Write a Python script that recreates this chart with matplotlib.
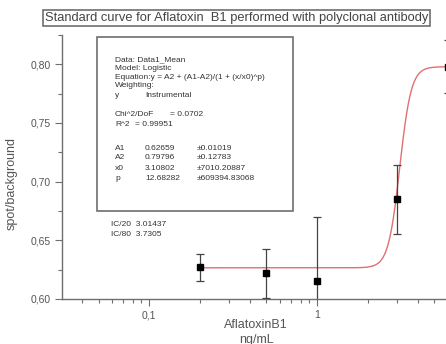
import numpy as np
import matplotlib
matplotlib.use("Agg")
import matplotlib.pyplot as plt
from matplotlib.patches import Rectangle
from matplotlib.ticker import FixedLocator, FuncFormatter

# measured points (ng/mL vs spot/background)
conc = [0.2, 0.5, 1.0, 3.0, 6.0]
ratio = [0.627, 0.622, 0.615, 0.685, 0.798]
ratio_err = [0.0115, 0.021, 0.055, 0.0295, 0.0225]

# logistic fit parameters as printed in the box
A1 = 0.62659
A2 = 0.79796
x0 = 3.10802
p = 12.68282
fit_range = [0.2, 6.5]

fit_lines = [
    "Data: Data1_Mean",
    "Model: Logistic",
    "Equation:y = A2 + (A1-A2)/(1 + (x/x0)^p)",
    "Weighting:",
]
param_names = ["A1", "A2", "x0", "p"]
param_vals = ["0.62659", "0.79796", "3.10802", "12.68282"]
param_errs = ["\u00b10.01019", "\u00b10.12783", "\u00b17010.20887", "\u00b1609394.83068"]
ic_lines = ["IC/20  3.01437", "IC/80  3.7305"]

grey = "#6e6e6e"
plt.rcParams["font.family"] = ["Liberation Sans", "DejaVu Sans"]

W, H = 446, 344
fig = plt.figure(figsize=(W / 100, H / 100), dpi=100)


def fx(px):
    return px / W


def fy(py):
    return 1 - py / H


ax = fig.add_axes([fx(62), fy(299), fx(453) - fx(62), fy(35) - fy(299)])
ax.set_xscale("log")
ax.set_xlim(0.0303, 6.45)
ax.set_ylim(0.60, 0.825)

xs = np.logspace(np.log10(fit_range[0]), np.log10(fit_range[1]), 400)
ax.plot(xs, A2 + (A1 - A2) / (1 + (xs / x0) ** p), color="#e07070", lw=1.0, zorder=2)
ax.errorbar(conc, ratio, yerr=ratio_err, fmt="s", color="black", ms=5,
            ecolor="#444444", elinewidth=0.9, capsize=3, capthick=0.9, zorder=3)

for s in ["top", "right"]:
    ax.spines[s].set_visible(False)
for s in ["left", "bottom"]:
    ax.spines[s].set_color(grey)
    ax.spines[s].set_linewidth(1.0)

ax.yaxis.set_major_locator(FixedLocator([0.60, 0.65, 0.70, 0.75, 0.80]))
ax.yaxis.set_minor_locator(FixedLocator([0.625, 0.675, 0.725, 0.775, 0.825]))
ax.yaxis.set_major_formatter(FuncFormatter(lambda v, pos: f"{v:.2f}".replace(".", ",")))
ax.xaxis.set_major_formatter(FuncFormatter(lambda v, pos: f"{v:g}".replace(".", ",")))
ax.tick_params(which="both", colors=grey, labelsize=7.5, width=0.8, labelcolor="#555555")
ax.tick_params(which="major", length=5, pad=3)
ax.tick_params(which="minor", length=3)

ax.set_ylabel("spot/background", fontsize=9, color="#555555")
ax.yaxis.set_label_coords(-0.1125, 0.436)
ax.set_xlabel("AflatoxinB1\nng/mL", fontsize=9, color="#555555", linespacing=1.3)
ax.xaxis.set_label_coords(0.497, -0.075)
ax.xaxis.label.set_va("top")

# title box
fig.text(fx(236.5), fy(18), "Standard curve for Aflatoxin  B1 performed with polyclonal antibody",
         ha="center", va="center", fontsize=9.3, color="#444444",
         bbox=dict(boxstyle="square,pad=0.12", fc="white", ec=grey, lw=1.2))

# parameter box
fig.patches.append(Rectangle((fx(97), fy(211)), fx(293) - fx(97), fy(37) - fy(211),
                             transform=fig.transFigure, fill=False, ec=grey, lw=1.2))
fs = 6.0
tc = "#333333"
for i, line in enumerate(fit_lines):
    fig.text(fx(115), fy(60 + 8.6 * i), line, fontsize=fs, color=tc, va="center")
fig.text(fx(115), fy(95), "y", fontsize=fs, color=tc, va="center")
fig.text(fx(145), fy(95), "Instrumental", fontsize=fs, color=tc, va="center")
fig.text(fx(115), fy(115), "Chi^2/DoF", fontsize=fs, color=tc, va="center")
fig.text(fx(170), fy(115), "= 0.0702", fontsize=fs, color=tc, va="center")
fig.text(fx(115), fy(124), "R^2", fontsize=fs, color=tc, va="center")
fig.text(fx(135), fy(124), "= 0.99951", fontsize=fs, color=tc, va="center")
for i in range(4):
    yy = fy(148 + 10 * i)
    fig.text(fx(115), yy, param_names[i], fontsize=fs, color=tc, va="center")
    fig.text(fx(145), yy, param_vals[i], fontsize=fs, color=tc, va="center")
    fig.text(fx(197), yy, param_errs[i], fontsize=fs, color=tc, va="center")

for i, line in enumerate(ic_lines):
    fig.text(fx(111), fy(225 + 9 * i), line, fontsize=fs, color=tc, va="center")

fig.savefig("out.png", dpi=100)
